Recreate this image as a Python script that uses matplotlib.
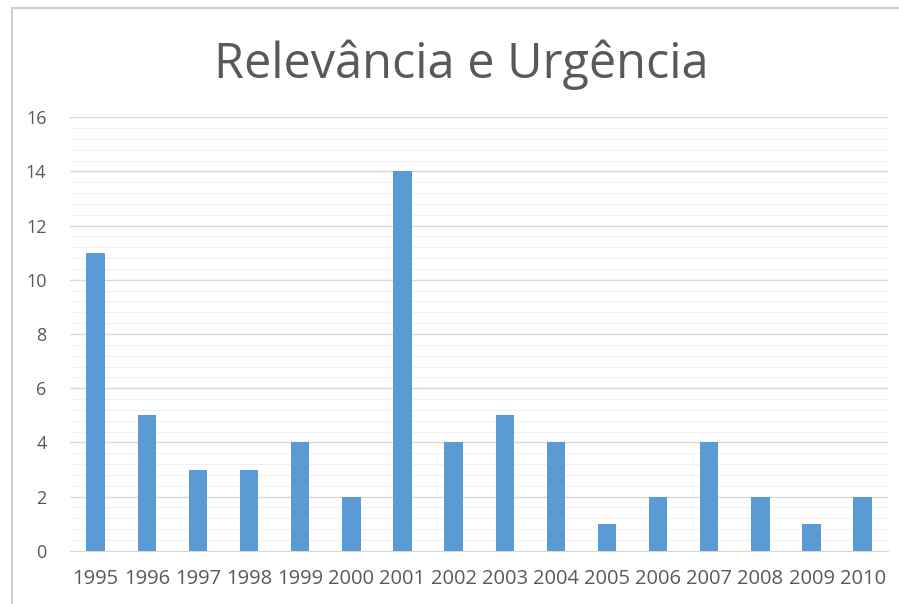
import matplotlib
matplotlib.use("Agg")
import matplotlib.pyplot as plt
from matplotlib.ticker import MultipleLocator
from matplotlib.lines import Line2D

years = ["1995", "1996", "1997", "1998", "1999", "2000", "2001", "2002",
         "2003", "2004", "2005", "2006", "2007", "2008", "2009", "2010"]
values = [11, 5, 3, 3, 4, 2, 14, 4, 5, 4, 1, 2, 4, 2, 1, 2]
title = "Relevância e Urgência"

fig = plt.figure(figsize=(8.99, 6.04), dpi=100)
ax = fig.add_axes([0.078, 0.088, 0.910, 0.718])

x = range(len(years))
ax.bar(x, values, width=0.36, color="#5B9BD5", zorder=3)
ax.set_xlim(-0.5, len(years) - 0.5)
ax.set_ylim(0, 16)
ax.yaxis.set_major_locator(MultipleLocator(2))
ax.yaxis.set_minor_locator(MultipleLocator(0.4))
ax.grid(axis="y", which="major", color="#D9D9D9", linewidth=1.0, zorder=0)
ax.grid(axis="y", which="minor", color="#F0F0F0", linewidth=0.8, zorder=0)
ax.set_xticks(list(x))
ax.set_xticklabels(years)
for s in ["top", "right", "left"]:
    ax.spines[s].set_visible(False)
ax.spines["bottom"].set_color("#D9D9D9")
ax.tick_params(axis="both", which="both", length=0, colors="#595959")
ax.tick_params(axis="x", labelsize=14.5, pad=13)
ax.tick_params(axis="y", labelsize=13, pad=17)
for lbl in ax.get_xticklabels() + ax.get_yticklabels():
    lbl.set_family("Open Sans")

fig.text(0.513, 0.893, title, ha="center", va="center", fontsize=35,
         color="#595959", family="Open Sans")

# light frame lines (left and top)
fig.add_artist(Line2D([12/899, 12/899], [0, 1 - 8/604], color="#D0D0D0", lw=1.5))
fig.add_artist(Line2D([12/899, 1], [1 - 8/604, 1 - 8/604], color="#D0D0D0", lw=1.5))

fig.savefig("out.png", dpi=100)
